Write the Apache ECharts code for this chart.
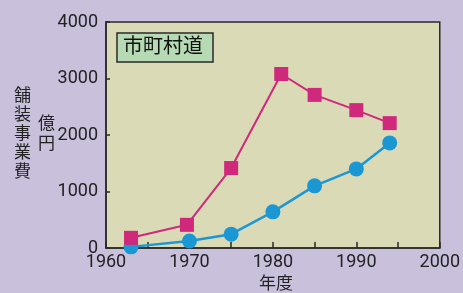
<!DOCTYPE html>
<html>
<head>
<meta charset="utf-8">
<script src="https://cdn.jsdelivr.net/npm/echarts@6/dist/echarts.min.js"></script>
<style>
  html, body { margin: 0; padding: 0; background: #c9c0db; }
  #chart { width: 463px; height: 293px; }
</style>
</head>
<body>
<div id="chart"></div>
<script>
// 市町村道 舗装事業費（億円）
var redYears = [1963, 1969.7, 1975, 1981, 1985, 1990, 1994];
var redValues = [180, 410, 1415, 3080, 2710, 2440, 2210];
var blueYears = [1963, 1970, 1975, 1980, 1985, 1990, 1994];
var blueValues = [20, 125, 245, 640, 1100, 1400, 1860];
var xTicks = [1960, 1970, 1980, 1990, 2000];
var yTicks = [0, 1000, 2000, 3000, 4000];

function pairs(xs, ys) {
  return xs.map(function (x, i) { return [x, ys[i]]; });
}

var numFont = 'Roboto, sans-serif';
var cjkFont = '"Noto Sans CJK JP", sans-serif';

var chart = echarts.init(document.getElementById("chart"));
chart.setOption({
  backgroundColor: "#c9c0db",
  animation: false,
  grid: {
    left: 106,
    right: 17,
    top: 22,
    bottom: 45,
    show: true,
    backgroundColor: "#dbdab7",
    borderColor: "#2a2a2a",
    borderWidth: 1.5
  },
  xAxis: {
    type: "value",
    min: 1960,
    max: 2000,
    interval: 5,
    axisLine: { lineStyle: { color: "#2a2a2a", width: 1.5 } },
    axisTick: { inside: true, length: 6, lineStyle: { color: "#2a2a2a", width: 1.5 } },
    splitLine: { show: false },
    axisLabel: {
      color: "#222",
      fontFamily: numFont,
      fontSize: 18,
      margin: 5,
      formatter: function (v) { return xTicks.indexOf(v) >= 0 ? String(v) : ""; }
    }
  },
  yAxis: {
    type: "value",
    min: 0,
    max: 4000,
    interval: 1000,
    axisLine: { show: true, lineStyle: { color: "#2a2a2a", width: 1.5 } },
    axisTick: { show: true, inside: true, length: 4, lineStyle: { color: "#2a2a2a", width: 1.5 } },
    splitLine: { show: false },
    axisLabel: {
      color: "#222",
      fontFamily: numFont,
      fontSize: 18,
      margin: 8,
      formatter: function (v) { return yTicks.indexOf(v) >= 0 ? String(v) : ""; }
    }
  },
  graphic: [
    {
      type: "rect",
      shape: { x: 117, y: 33, width: 96, height: 29 },
      style: { fill: "#b6dab4", stroke: "#2a2a2a", lineWidth: 1.5 }
    },
    {
      type: "text",
      left: 123, top: 35,
      style: { text: "市町村道", font: "20px " + cjkFont, fill: "#111" }
    },
    {
      type: "text",
      left: 14, top: 85,
      style: { text: "舗\n装\n事\n業\n費", font: "17px " + cjkFont, lineHeight: 19, fill: "#222" }
    },
    {
      type: "text",
      left: 38, top: 113,
      style: { text: "億\n円", font: "17px " + cjkFont, lineHeight: 20, fill: "#222" }
    },
    {
      type: "text",
      left: 259, top: 274,
      style: { text: "年度", font: "17px " + cjkFont, fill: "#222" }
    }
  ],
  series: [
    {
      type: "line",
      data: pairs(blueYears, blueValues),
      symbol: "circle",
      symbolSize: 15,
      lineStyle: { color: "#1b98d4", width: 2.5 },
      itemStyle: { color: "#1b98d4" }
    },
    {
      type: "line",
      data: pairs(redYears, redValues),
      symbol: "rect",
      symbolSize: 14,
      lineStyle: { color: "#d0287a", width: 2 },
      itemStyle: { color: "#d0287a" }
    }
  ]
});
</script>
</body>
</html>
